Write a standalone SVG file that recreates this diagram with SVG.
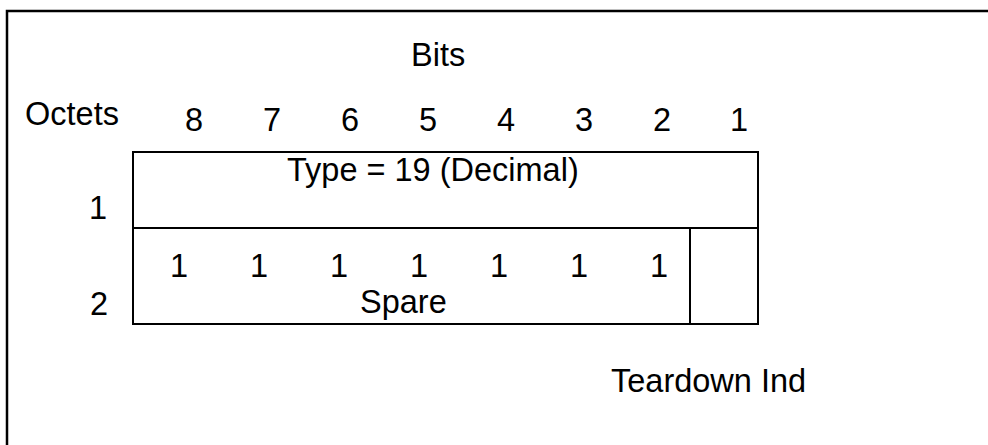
<svg xmlns="http://www.w3.org/2000/svg" width="988" height="445" viewBox="0 0 988 445">
<style>
text{font-family:"Liberation Sans",Arial,sans-serif;font-size:32.5px;fill:#000}
.c{text-anchor:middle}
.ln{stroke:#000;stroke-width:2;fill:none}
</style>
<rect x="0" y="0" width="988" height="445" fill="#fff"/>
<g id="frame"><rect x="7" y="11" width="1000" height="460" fill="none" stroke="#000" stroke-width="2.5"/></g>
<g id="header">
<text x="411" y="66">Bits</text>
<text x="25" y="125">Octets</text>
<text class="c" x="194" y="131">8</text>
<text class="c" x="272" y="131">7</text>
<text class="c" x="350" y="131">6</text>
<text class="c" x="428" y="131">5</text>
<text class="c" x="506" y="131">4</text>
<text class="c" x="584" y="131">3</text>
<text class="c" x="662" y="131">2</text>
<text class="c" x="739" y="131">1</text>
</g>
<g id="octet1">
<rect class="ln" x="133" y="152" width="625" height="76"/>
<text x="287" y="181">Type = 19 (Decimal)</text>
<text class="c" x="98" y="219">1</text>
</g>
<g id="octet2">
<rect class="ln" x="133" y="228" width="557" height="96"/>
<text class="c" x="179" y="277">1</text>
<text class="c" x="259" y="277">1</text>
<text class="c" x="339" y="277">1</text>
<text class="c" x="419" y="277">1</text>
<text class="c" x="499" y="277">1</text>
<text class="c" x="579" y="277">1</text>
<text class="c" x="659" y="277">1</text>
<text x="360" y="313">Spare</text>
<text class="c" x="99" y="315">2</text>
</g>
<g id="teardown">
<rect class="ln" x="690" y="228" width="68" height="96"/>
<text x="611" y="392">Teardown Ind</text>
</g>
</svg>
